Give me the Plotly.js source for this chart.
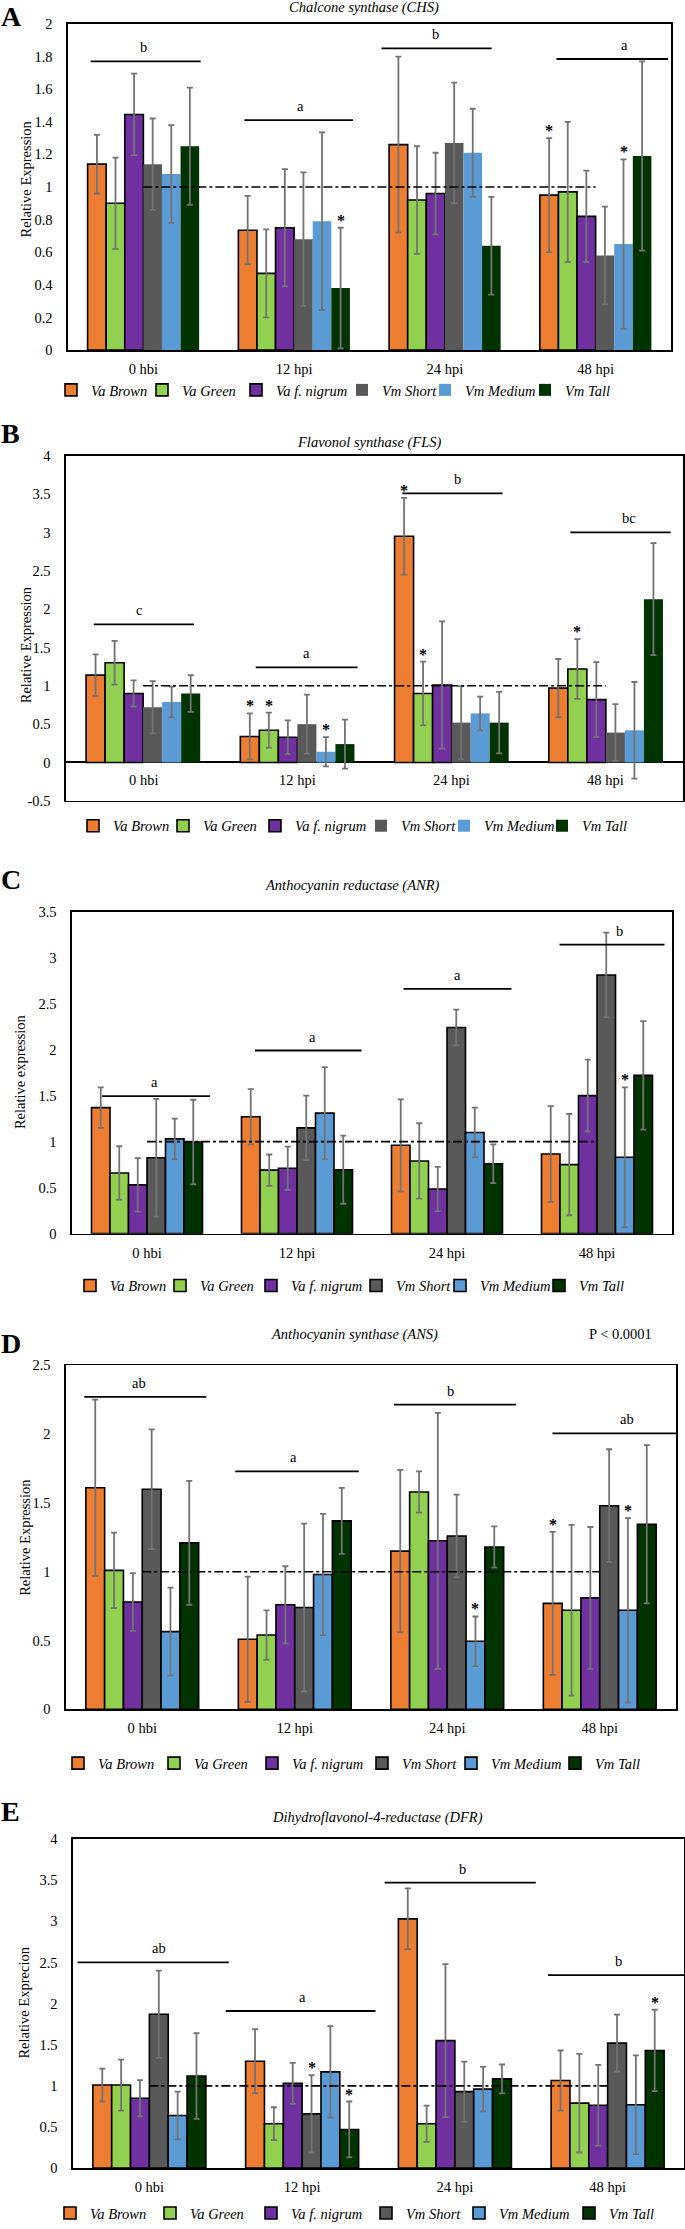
<!DOCTYPE html>
<html><head><meta charset="utf-8">
<script src="https://cdn.plot.ly/plotly-3.0.1.min.js"></script>
<style>body{margin:0;padding:0;background:#fff}</style>
</head><body><div id="chart" style="width:685px;height:2229px"></div>
<script>
// ---------------- DATA ----------------
const categories = ['0 hbi', '12 hpi', '24 hpi', '48 hpi'];
const seriesNames = ['Va Brown', 'Va Green', 'Va f. nigrum', 'Vm Short', 'Vm Medium', 'Vm Tall'];

// Panel A – Chalcone synthase (CHS): rows = series, cols = categories
const chsValues = [
  [1.14, 0.735, 1.26, 0.95],
  [0.90, 0.47, 0.92, 0.97],
  [1.445, 0.75, 0.96, 0.82],
  [1.14, 0.68, 1.27, 0.58],
  [1.08, 0.79, 1.21, 0.65],
  [1.25, 0.38, 0.64, 1.19]
];
const chsErrors = [
  [0.18, 0.21, 0.54, 0.35],
  [0.28, 0.27, 0.33, 0.43],
  [0.25, 0.36, 0.25, 0.28],
  [0.28, 0.41, 0.37, 0.30],
  [0.30, 0.545, 0.27, 0.52],
  [0.36, 0.37, 0.30, 0.58]
];
// Panel B – Flavonol synthase (FLS)
const flsValues = [
  [1.14, 0.34, 2.95, 0.97],
  [1.30, 0.42, 0.90, 1.22],
  [0.90, 0.33, 1.01, 0.82],
  [0.72, 0.50, 0.52, 0.39],
  [0.79, 0.14, 0.64, 0.42],
  [0.90, 0.24, 0.52, 2.13]
];
const flsErrors = [
  [0.27, 0.30, 0.50, 0.38],
  [0.285, 0.23, 0.415, 0.39],
  [0.17, 0.22, 0.83, 0.49],
  [0.34, 0.385, 0.475, 0.37],
  [0.20, 0.19, 0.22, 0.63],
  [0.24, 0.32, 0.40, 0.73]
];
// Panel C – Anthocyanin reductase (ANR)
const anrValues = [
  [1.37, 1.27, 0.96, 0.865],
  [0.66, 0.69, 0.79, 0.75],
  [0.53, 0.71, 0.485, 1.50],
  [0.825, 1.15, 2.24, 2.81],
  [1.03, 1.31, 1.10, 0.83],
  [0.995, 0.695, 0.76, 1.72]
];
const anrErrors = [
  [0.22, 0.30, 0.50, 0.52],
  [0.29, 0.17, 0.41, 0.55],
  [0.29, 0.235, 0.24, 0.39],
  [0.64, 0.35, 0.195, 0.46],
  [0.22, 0.50, 0.27, 0.76],
  [0.46, 0.37, 0.21, 0.59]
];
// Panel D – Anthocyanin synthase (ANS)
const ansValues = [
  [1.61, 0.51, 1.15, 0.77],
  [1.01, 0.54, 1.58, 0.72],
  [0.78, 0.76, 1.225, 0.81],
  [1.60, 0.74, 1.26, 1.48],
  [0.565, 0.98, 0.495, 0.72],
  [1.21, 1.37, 1.18, 1.345]
];
const ansErrors = [
  [0.64, 0.455, 0.59, 0.52],
  [0.275, 0.18, 0.15, 0.62],
  [0.21, 0.28, 0.93, 0.515],
  [0.435, 0.61, 0.30, 0.41],
  [0.32, 0.44, 0.18, 0.67],
  [0.45, 0.24, 0.15, 0.575]
];
// Panel E – Dihydroflavonol-4-reductase (DFR)
const dfrValues = [
  [1.01, 1.30, 3.03, 1.065],
  [1.01, 0.54, 0.54, 0.79],
  [0.85, 1.03, 1.55, 0.765],
  [1.87, 0.66, 0.93, 1.52],
  [0.64, 1.17, 0.96, 0.77],
  [1.12, 0.47, 1.085, 1.43]
];
const dfrErrors = [
  [0.20, 0.39, 0.37, 0.365],
  [0.31, 0.20, 0.22, 0.60],
  [0.22, 0.25, 0.93, 0.49],
  [0.53, 0.47, 0.365, 0.345],
  [0.29, 0.555, 0.27, 0.60],
  [0.52, 0.34, 0.175, 0.495]
];

// significance letters (one per category) and the level of their bar
const chsLetters = ['b', 'a', 'b', 'a'];
const chsSigLevels = [1.77, 1.41, 1.85, 1.785];
const flsLetters = ['c', 'a', 'b', 'bc'];
const flsSigLevels = [1.80, 1.24, 3.51, 3.0];
const anrLetters = ['a', 'a', 'a', 'b'];
const anrSigLevels = [1.495, 1.99, 2.66, 3.14];
const ansLetters = ['ab', 'a', 'b', 'ab'];
const ansSigLevels = [2.27, 1.73, 2.215, 2.005];
const dfrLetters = ['ab', 'a', 'b', 'b'];
const dfrSigLevels = [2.50, 1.91, 3.47, 2.345];

// asterisks: [category index, series index]
const chsStars = [[1, 5], [3, 0], [3, 4]];
const flsStars = [[1, 0], [1, 1], [1, 4], [2, 0], [2, 1], [3, 1]];
const anrStars = [[3, 4]];
const ansStars = [[2, 4], [3, 0], [3, 4]];
const dfrStars = [[1, 3], [1, 5], [3, 5]];

const flsTickVals = [-0.5, 0, 0.5, 1, 1.5, 2, 2.5, 3, 3.5, 4];
const flsTickText = ['-0.5', '0', '0.5', '1', '1.5', '2', '2.5', '3', '3.5', '4'];

// ---------------- STYLE / LAYOUT ----------------
const W = 685, H = 2229;
const px = v => v / W;
const py = v => 1 - v / H;
const FONT = "'Liberation Serif', 'Times New Roman', serif";
const FS = 14.5;
const colors = ['#ED7D31', '#92D050', '#7030A0', '#595959', '#5B9BD5', '#003300'];

const panels = [
  { letter: 'A', title: 'Chalcone synthase (CHS)', ytitle: 'Relative Expression',
    values: chsValues, errors: chsErrors, letters: chsLetters, sigLevels: chsSigLevels, stars: chsStars,
    box: [68, 671, 24, 351], range: [0, 2], dtick: 0.2, vmOutline: false,
    letterTop: 0, titleX: 364, titleY: 8, yTitleX: 26, yTitleY: 180, legendY: 391,
    legendXs: [73, 164, 258, 364, 447, 547],
    sigSpans: [[-0.35, 0.38, 0], [-0.33, 0.39, 0.04], [-0.42, 0.31, -0.06], [-0.26, 0.48, 0.19]] },
  { letter: 'B', title: 'Flavonol synthase (FLS)', ytitle: 'Relative Expression',
    values: flsValues, errors: flsErrors, letters: flsLetters, sigLevels: flsSigLevels, stars: flsStars,
    box: [66, 683, 457, 803], range: [-0.5, 4], dtick: 0.5, vmOutline: false,
    letterTop: 418, titleX: 369, titleY: 444, yTitleX: 26, yTitleY: 647, legendY: 828,
    legendXs: [95, 185, 277, 383, 466, 564],
    sigSpans: [[-0.32, 0.33, -0.03], [-0.27, 0.39, 0.06], [-0.32, 0.33, 0.04], [-0.23, 0.42, 0.15]],
    labelsInside: true },
  { letter: 'C', title: 'Anthocyanin reductase (ANR)', ytitle: 'Relative expression',
    values: anrValues, errors: anrErrors, letters: anrLetters, sigLevels: anrSigLevels, stars: anrStars,
    box: [72, 672, 914, 1237], range: [0, 3.5], dtick: 0.5, vmOutline: true,
    letterTop: 865, titleX: 352, titleY: 888, yTitleX: 20, yTitleY: 1075, legendY: 1289,
    legendXs: [92, 182, 273, 378, 462, 561],
    sigSpans: [[-0.30, 0.42, 0.05], [-0.28, 0.43, 0.10], [-0.29, 0.43, 0.07], [-0.25, 0.45, 0.15]] },
  { letter: 'D', title: 'Anthocyanin synthase (ANS)', ytitle: 'Relative Expression',
    values: ansValues, errors: ansErrors, letters: ansLetters, sigLevels: ansSigLevels, stars: ansStars,
    box: [66, 676, 1369, 1714], range: [0, 2.5], dtick: 0.5, vmOutline: true,
    letterTop: 1331, titleX: 354, titleY: 1338, yTitleX: 25, yTitleY: 1542, legendY: 1768,
    legendXs: [80, 176, 274, 384, 473, 577],
    sigSpans: [[-0.38, 0.42, -0.02], [-0.39, 0.42, -0.01], [-0.35, 0.45, 0.02], [-0.31, 0.50, 0.18]],
    pvalue: 'P < 0.0001' },
  { letter: 'E', title: 'Dihydroflavonol-4-reductase (DFR)', ytitle: 'Relative Exprecion',
    values: dfrValues, errors: dfrErrors, letters: dfrLetters, sigLevels: dfrSigLevels, stars: dfrStars,
    box: [73, 684, 1844, 2174], range: [0, 4], dtick: 0.5, vmOutline: true,
    letterTop: 1800, titleX: 377, titleY: 1822, yTitleX: 24, yTitleY: 2008, legendY: 2219,
    legendXs: [72, 172, 273, 388, 481, 591],
    sigSpans: [[-0.47, 0.52, 0.06], [-0.50, 0.48, 0.00], [-0.46, 0.53, 0.05], [-0.39, 0.50, 0.07]] }
];

const GROUP = 0.74;
const barOffset = i => -GROUP / 2 + GROUP / 6 * (i + 0.5);
// Plotly draws the bar swatch 14px right of the legend origin and the text 40px right of it;
// shift so swatch + text sit where the reference entry sits.
const LEGEND_SHIFT = 22;

const traces = [];
const layout = {
  width: W, height: H, margin: { l: 0, r: 0, t: 0, b: 0 },
  barmode: 'group', bargap: 1 - GROUP, bargroupgap: 0, showlegend: true,
  paper_bgcolor: '#fff', plot_bgcolor: '#fff',
  font: { family: FONT, color: '#000', size: FS },
  annotations: [], shapes: []
};

let legendIdx = 0;
panels.forEach((p, k) => {
  const n = k === 0 ? '' : String(k + 1);
  const xa = 'x' + n, ya = 'y' + n;
  const [x0, x1, y0, y1] = p.box;

  seriesNames.forEach((name, s) => {
    const outline = s < 3 || p.vmOutline;
    legendIdx++;
    const lg = legendIdx === 1 ? 'legend' : 'legend' + legendIdx;
    traces.push({
      type: 'bar', name: name, x: categories, y: p.values[s],
      xaxis: xa, yaxis: ya, legend: lg, showlegend: true,
      marker: { color: colors[s], line: { color: '#000', width: outline ? 1.6 : 0 } },
      error_y: { type: 'data', array: p.errors[s], visible: true, color: '#737373', thickness: 1.8, width: 3 },
      hoverinfo: 'skip'
    });
    layout[lg] = {
      visible: true, orientation: 'h', x: px(p.legendXs[s] - LEGEND_SHIFT), xanchor: 'left',
      y: py(p.legendY), yanchor: 'middle',
      font: { family: FONT, size: FS, color: '#000', style: 'italic' }, bgcolor: 'rgba(0,0,0,0)',
      itemclick: false, itemdoubleclick: false, borderwidth: 0
    };
  });

  layout['xaxis' + n] = {
    domain: [px(x0), px(x1)], anchor: ya, type: 'category', categoryorder: 'array', categoryarray: categories,
    range: [-0.5, 3.5], showline: true, linecolor: '#000', linewidth: 1.6, mirror: true,
    ticks: '', showgrid: false, zeroline: false, showticklabels: !p.labelsInside,
    tickfont: { family: FONT, size: FS, color: '#000' }, ticklabelstandoff: 5, fixedrange: true
  };
  const ycfg = {
    domain: [py(y1), py(y0)], anchor: xa, range: p.range, dtick: p.dtick, tick0: 0,
    showline: true, linecolor: '#000', linewidth: 1.6, mirror: true,
    ticks: '', showgrid: false, zeroline: p.range[0] < 0, zerolinecolor: '#000', zerolinewidth: 2,
    tickfont: { family: FONT, size: FS, color: '#000' }, ticklabelstandoff: 11, fixedrange: true
  };
  if (p.labelsInside) { ycfg.tickvals = flsTickVals; ycfg.ticktext = flsTickText; }
  layout['yaxis' + n] = ycfg;

  // panel letter, title, y title
  layout.annotations.push(
    { xref: 'paper', yref: 'paper', x: 0, y: py(p.letterTop), xanchor: 'left', yanchor: 'top', showarrow: false,
      borderpad: 0, text: '<b>' + p.letter + '</b>', font: { family: FONT, size: 28, color: '#000' } },
    { xref: 'paper', yref: 'paper', x: px(p.titleX), y: py(p.titleY), xanchor: 'center', yanchor: 'middle', showarrow: false,
      text: '<i>' + p.title + '</i>', font: { family: FONT, size: FS, color: '#000' } },
    { xref: 'paper', yref: 'paper', x: px(p.yTitleX), y: py(p.yTitleY), xanchor: 'center', yanchor: 'middle', showarrow: false,
      textangle: -90, text: p.ytitle, font: { family: FONT, size: FS, color: '#000' } }
  );
  if (p.pvalue) {
    layout.annotations.push({ xref: 'paper', yref: 'paper', x: px(620), y: py(p.titleY), xanchor: 'center', yanchor: 'middle',
      showarrow: false, text: p.pvalue, font: { family: FONT, size: FS, color: '#000' } });
  }
  if (p.labelsInside) {
    categories.forEach((c, i) => layout.annotations.push({ xref: xa, yref: ya, x: i, y: -0.225, showarrow: false,
      xanchor: 'center', yanchor: 'middle', text: c, font: { family: FONT, size: FS, color: '#000' } }));
  }

  // reference line at 1
  layout.shapes.push({ type: 'line', xref: xa, yref: ya, x0: 0, x1: 3, y0: 1, y1: 1,
    line: { color: '#000', width: 1.6, dash: 'dashdot' } });

  // significance bars + letters
  p.letters.forEach((L, i) => {
    const [a, b, lx] = p.sigSpans[i];
    layout.shapes.push({ type: 'line', xref: xa, yref: ya, x0: i + a, x1: i + b, y0: p.sigLevels[i], y1: p.sigLevels[i],
      line: { color: '#000', width: 1.8 } });
    layout.annotations.push({ xref: xa, yref: ya, x: i + lx, y: p.sigLevels[i], yshift: 4, xanchor: 'center', yanchor: 'bottom',
      showarrow: false, text: L, font: { family: FONT, size: FS, color: '#000' } });
  });

  // asterisks
  p.stars.forEach(([c, s]) => {
    layout.annotations.push({ xref: xa, yref: ya, x: c + barOffset(s), y: p.values[s][c] + p.errors[s][c],
      xanchor: 'center', yanchor: 'bottom', yshift: -3, showarrow: false, text: '<b>*</b>',
      font: { family: FONT, size: 16, color: '#000' } });
  });
});

Plotly.newPlot('chart', traces, layout, { staticPlot: true, displayModeBar: false });
</script>
</body></html>
